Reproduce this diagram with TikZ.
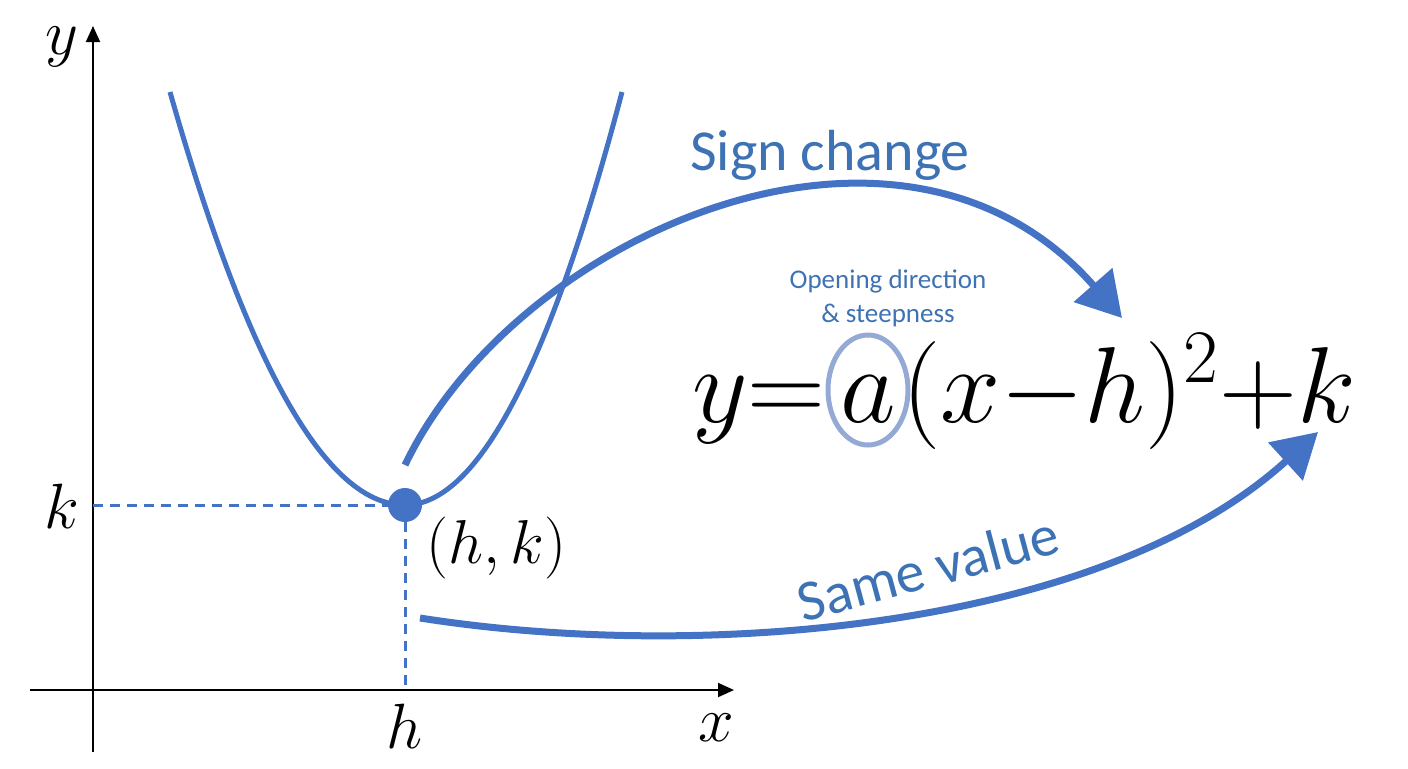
\RequirePackage{fix-cm}
\documentclass[tikz,border=0pt]{standalone}
\usepackage{fontspec}
\setsansfont{Carlito}
\usetikzlibrary{arrows.meta,shapes.geometric}
\definecolor{pblue}{HTML}{4472C4}
\definecolor{tblue}{HTML}{3D72B4}
\definecolor{lblue}{HTML}{95A9D5}
\tikzset{
  axis/.style={line width=1pt, -{Triangle[length=8pt,width=7pt]}},
  guide/.style={pblue, line width=1.5pt, dash pattern=on 5pt off 3.5pt},
  curve/.style={pblue, line width=2.5pt},
  bigarrow/.style={pblue, line width=3.5pt, -{Triangle[length=22pt,width=25pt]}},
  axlabel/.style={font=\fontsize{32}{38}\selectfont, inner sep=0pt},
  eqfont/.style={font=\fontsize{54}{62}\selectfont, inner sep=0pt},
  bluetext/.style={font=\sffamily\fontsize{29}{34}\selectfont, text=tblue, inner sep=0pt},
}
\begin{document}
\begin{tikzpicture}[x=0.5pt,y=-0.5pt]
\useasboundingbox (0,0) rectangle (1408,768);
% axes
\coordinate (yb) at (93,752);
\coordinate (yt) at (93,26);
\coordinate (xl) at (30,690);
\coordinate (xr) at (734,690);
\draw[axis] (yb) -- (yt);
\draw[axis] (xl) -- (xr);
\node[axlabel] (ly) at (62,47) {$y$};
\node[axlabel] (lx) at (716,728) {$x$};
\node[axlabel] (lh) at (405,726) {$h$};
\node[axlabel] (lk) at (62,506) {$k$};
% vertex and guides
\coordinate (ky) at (93,505);
\coordinate (hx) at (405,690);
\node[circle, fill=pblue, minimum size=17pt, inner sep=0pt] (v) at (405,505) {};
\draw[guide] (ky) -- (v.center);
\draw[guide] (v.center) -- (hx);
% parabola
\draw[curve] plot[domain=170:405, samples=80] (\x, {505-413*((405-\x)/235)^2});
\draw[curve] plot[domain=405:622, samples=80] (\x, {505-413*((\x-405)/217)^2});
\node[font=\fontsize{31}{36}\selectfont, anchor=west, inner sep=0pt] (hk) at (426,548) {$(h,k)$};
% equation
\node[eqfont, anchor=base] (ea) at (868,422) {$a$};
\node[eqfont, anchor=base east] (ey) at (826,422) {$y{=}$};
\node[eqfont, anchor=base west] (er) at (902,422) {$(x{-}h)^2{+}k$};
\node[draw=lblue, line width=2.5pt, ellipse, minimum width=40pt, minimum height=55pt, inner sep=0pt] (ring) at (868,390) {};
\node[font=\sffamily\fontsize{13.5}{17}\selectfont, text=tblue, align=center] (note) at (888,298) {Opening direction\\\& steepness};
% arrows
\coordinate (s1) at (405,465);
\coordinate (s2) at (1122,318);
\draw[bigarrow] (s1) .. controls (515,235) and (900,65) .. (s2);
\node[bluetext] (sign) at (830,155) {Sign change};
\coordinate (t1) at (420,618);
\coordinate (t2) at (1318,432);
\draw[bigarrow] (t1) .. controls (700,662) and (1100,630) .. (t2);
\node[bluetext, rotate=15] (same) at (928,568) {Same value};
\end{tikzpicture}
\end{document}
